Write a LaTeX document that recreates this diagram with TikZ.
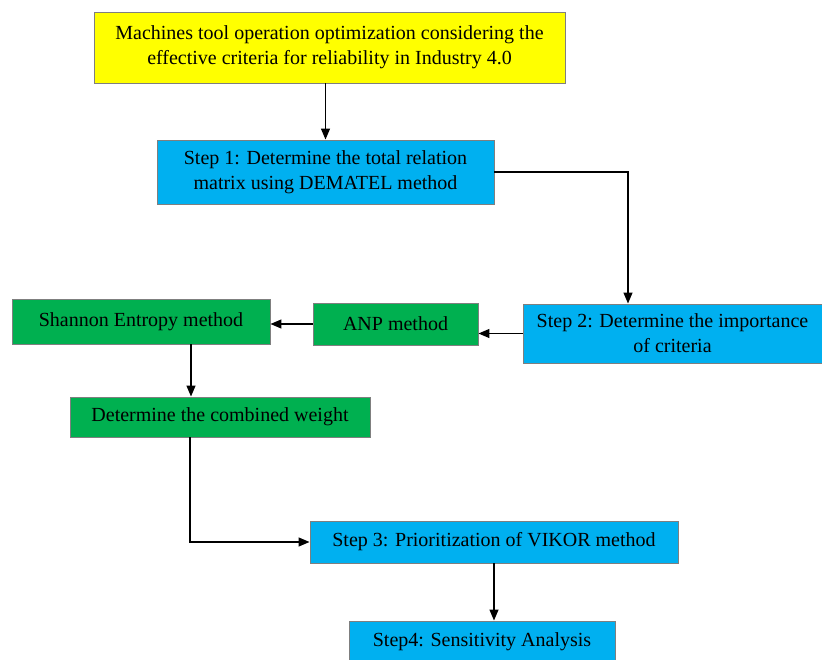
\documentclass[tikz,border=0pt]{standalone}
\usepackage{fontspec}
\setmainfont{Liberation Serif}
\usetikzlibrary{arrows.meta,positioning,calc}
\definecolor{goalyellow}{HTML}{FFFF00}
\definecolor{stepblue}{HTML}{00B0F0}
\definecolor{methodgreen}{HTML}{00B050}
\definecolor{edgegray}{HTML}{7F7F7F}
\tikzset{
  basebox/.style={
    draw=edgegray,
    line width=0.9pt,
    inner sep=2pt,
    align=center,
    font=\fontsize{20}{25}\selectfont
  },
  goalbox/.style={basebox,fill=goalyellow},
  stepbox/.style={basebox,fill=stepblue},
  methodbox/.style={basebox,fill=methodgreen},
  flowarrow/.style={-{Triangle[length=11pt,width=9pt]},line width=1.3pt,draw=black}
}
\begin{document}
\begin{tikzpicture}[x=1pt,y=-1pt]
\useasboundingbox (0,0) rectangle (822,660);
\node[goalbox,minimum width=471pt,minimum height=71pt] (goal) at (329.5,47.5) {Machines tool operation optimization considering the\\effective criteria for reliability in Industry 4.0};
\node[stepbox,minimum width=337pt,minimum height=64pt] (step1) at (325.5,172) {Step 1: Determine the total relation\\matrix using DEMATEL method};
\node[stepbox,minimum width=299pt,minimum height=59pt] (step2) at (672.5,333.5) {Step 2: Determine the importance\\of criteria};
\node[methodbox,minimum width=165pt,minimum height=42pt] (anp) at (395.5,324) {ANP method};
\node[methodbox,minimum width=258pt,minimum height=45pt] (shannon) at (141,321.5) {Shannon Entropy method};
\node[methodbox,minimum width=300pt,minimum height=40pt] (combined) at (220,417) {Determine the combined weight};
\node[stepbox,minimum width=368pt,minimum height=42pt] (step3) at (494,542) {Step 3: Prioritization of VIKOR method};
\node[stepbox,minimum width=266pt,minimum height=41pt] (step4) at (482,641.5) {Step4: Sensitivity Analysis};
\draw[flowarrow] (goal.south -| step1.north) -- (step1.north);
\draw[flowarrow] (step1.east) -| ([xshift=-44.5pt]step2.north);
\draw[flowarrow] (step2.west) -- (step2.west -| anp.east);
\draw[flowarrow] (anp.west) -- (anp.west -| shannon.east);
\draw[flowarrow] ([xshift=50pt]shannon.south) -- ([xshift=50pt]shannon.south |- combined.north);
\draw[flowarrow] ([xshift=-30pt]combined.south) |- (step3.west);
\draw[flowarrow] (step3.south) -- (step3.south |- step4.north);
\end{tikzpicture}
\end{document}
